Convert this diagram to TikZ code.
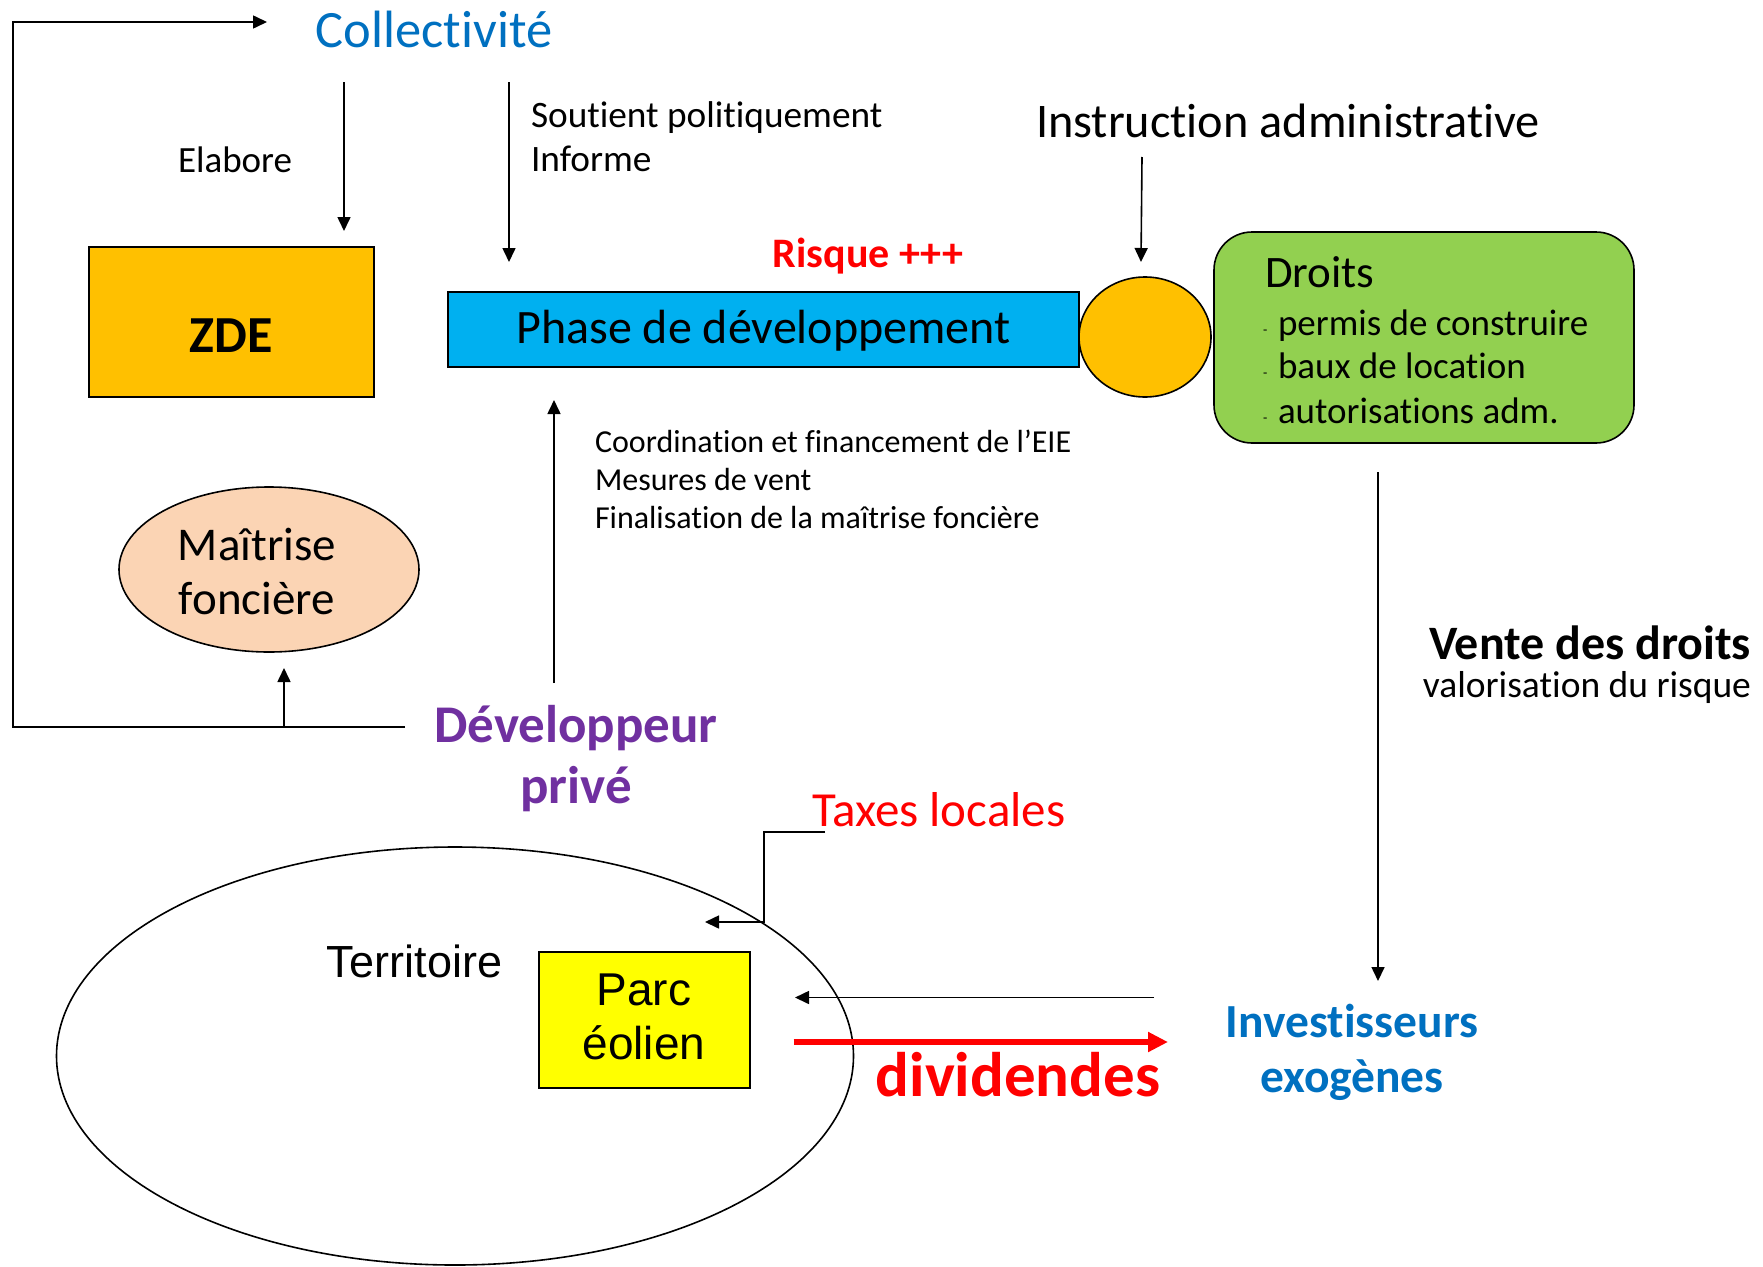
\documentclass[tikz,border=0pt]{standalone}
\usepackage{fontspec}
\setmainfont{Carlito}[Ligatures=NoCommon]
\newfontfamily\arialf{Liberation Sans}
\usetikzlibrary{arrows.meta,shapes.geometric}
\definecolor{cblue}{RGB}{0,112,192}
\definecolor{zdeorange}{RGB}{255,192,0}
\definecolor{phaseblue}{RGB}{0,176,240}
\definecolor{droitsgreen}{RGB}{146,208,80}
\definecolor{peach}{RGB}{251,212,180}
\definecolor{devpurple}{RGB}{112,48,160}
\definecolor{cred}{RGB}{255,0,0}
\definecolor{cyellow}{RGB}{255,255,0}
\newcommand{\fs}[1]{\fontsize{#1}{#1}\selectfont}
\begin{document}
\begin{tikzpicture}[x=1pt,y=-1pt,
  conn/.style={draw=black,line width=1.6pt,-{Triangle[length=14pt,width=13pt]}},
  txt/.style={inner sep=0pt,outer sep=0pt},
  boxshape/.style={draw=black,line width=2pt,inner sep=0pt},
]
\useasboundingbox (0,0) rectangle (1763,1266);

% shapes
\node[boxshape,fill=zdeorange,minimum width=285pt,minimum height=150pt] (zde) at (231,322) {};
\node[boxshape,fill=phaseblue,minimum width=631pt,minimum height=75pt] (phase) at (763.5,329.5) {};
\node[boxshape,ellipse,fill=zdeorange,line width=1.6pt,minimum width=132pt,minimum height=120pt] (circ) at (1145,337) {};
\node[boxshape,fill=droitsgreen,rounded corners=38pt,line width=1.6pt,minimum width=420pt,minimum height=211pt] (droits) at (1424,337.5) {};
\node[boxshape,ellipse,fill=peach,line width=1.6pt,minimum width=300pt,minimum height=165pt] (maitrise) at (269,569.5) {};
\node[boxshape,ellipse,line width=1.6pt,minimum width=797pt,minimum height=418pt] (terr) at (455,1056) {};
\node[boxshape,fill=cyellow,minimum width=211pt,minimum height=136pt] (parc) at (644,1020) {};

% texts
\node[txt,anchor=base,text=cblue,font=\fs{52.5}] (coll) at (434,47) {Collectivité};
\node[txt,anchor=base west,font=\fs{37}] (elabore) at (178,172) {Elabore};
\node[txt,anchor=base west,font=\fs{37.3}] (soutient) at (531,127) {Soutient politiquement};
\node[txt,anchor=base west,font=\fs{37.3}] (informe) at (531,171) {Informe};
\node[txt,anchor=base,text=cred,font=\bfseries\fs{42}] (risque) at (868,267) {Risque +++};
\node[txt,anchor=base,font=\bfseries\fs{52}] (zdet) at (231,352) {ZDE};
\node[txt,anchor=base,font=\fs{48}] (phaset) at (763.5,343) {Phase de développement};
\node[txt,anchor=base west,font=\fs{48.3}] (instr) at (1036,137) {Instruction administrative};
\node[txt,anchor=base west,font=\fs{45}] (droitst) at (1265,287) {Droits};
\node[txt,anchor=base west,font=\fs{14}] (d1) at (1263,334) {-};
\node[txt,anchor=base west,font=\fs{14}] (d2) at (1263,377) {-};
\node[txt,anchor=base west,font=\fs{14}] (d3) at (1263,422) {-};
\node[txt,anchor=base west,font=\fs{37}] (l1) at (1278,335) {permis de construire};
\node[txt,anchor=base west,font=\fs{37}] (l2) at (1278,378) {baux de location};
\node[txt,anchor=base west,font=\fs{37}] (l3) at (1278,423) {autorisations adm.};
\node[txt,anchor=base west,font=\fs{32}] (c1) at (595,452) {Coordination et financement de l’EIE};
\node[txt,anchor=base west,font=\fs{32}] (c2) at (595,490) {Mesures de vent};
\node[txt,anchor=base west,font=\fs{32}] (c3) at (595,528) {Finalisation de la maîtrise foncière};
\node[txt,anchor=base,font=\fs{47}] (m1) at (257,560) {Maîtrise};
\node[txt,anchor=base,font=\fs{47}] (m2) at (257,614) {foncière};
\node[txt,anchor=base,text=devpurple,font=\bfseries\fs{53}] (dev1) at (576,742) {Développeur};
\node[txt,anchor=base,text=devpurple,font=\bfseries\fs{53}] (dev2) at (576,803) {privé};
\node[txt,anchor=base west,text=cred,font=\fs{49}] (taxes) at (812,826) {Taxes locales};
\node[txt,anchor=base east,font=\bfseries\fs{48}] (vente) at (1751,659) {Vente des droits};
\node[txt,anchor=base east,font=\fs{37.5}] (valo) at (1751,697) {valorisation du risque};
\node[txt,anchor=base,text=cblue,font=\bfseries\fs{47.5}] (inv1) at (1352,1037) {Investisseurs};
\node[txt,anchor=base,text=cblue,font=\bfseries\fs{47.5}] (inv2) at (1352,1092) {exogènes};
\node[txt,anchor=base,text=cred,font=\bfseries\fs{63}] (divid) at (1018,1096) {dividendes};
\node[txt,anchor=base,font=\arialf\fs{45}] (terrt) at (414.5,977) {Territoire};
\node[txt,anchor=base,font=\arialf\fs{46}] (parc1) at (644,1005) {Parc};
\node[txt,anchor=base,font=\arialf\fs{46}] (parc2) at (644,1059) {éolien};

% connector end points
\coordinate (fbstart) at (405,727);
\coordinate (fbcornerA) at (13,727);
\coordinate (fbcornerB) at (13,22);
\coordinate (fbend) at (267,22);
\coordinate (mbranch) at (284,727);
\coordinate (mtip) at (284,668);
\coordinate (elA) at (344,82);
\coordinate (elB) at (344,231);
\coordinate (soA) at (509,82);
\coordinate (soB) at (509,262);
\coordinate (inA) at (1142,157);
\coordinate (inB) at (1141,262);
\coordinate (dvA) at (554,683);
\coordinate (dvB) at (554,400);
\coordinate (veA) at (1378,472);
\coordinate (veB) at (1378,981);
\coordinate (ivA) at (1154,997.5);
\coordinate (ivB) at (795,997.5);
\coordinate (txA) at (825,832);
\coordinate (txB) at (764,832);
\coordinate (txC) at (764,922);
\coordinate (txD) at (705,922);
\coordinate (dA) at (793.5,1042);
\coordinate (dB) at (1168,1042);

% connectors
\draw[conn] (fbstart) -- (fbcornerA) -- (fbcornerB) -- (fbend);
\draw[conn] (mbranch) -- (mtip);
\draw[conn] (elA) -- (elB);
\draw[conn] (soA) -- (soB);
\draw[conn] (inA) -- (inB);
\draw[conn] (dvA) -- (dvB);
\draw[conn] (veA) -- (veB);
\draw[conn] (ivA) -- (ivB);
\draw[conn] (txA) -- (txB) -- (txC) -- (txD);
\draw[draw=cred,line width=6pt,-{Triangle[length=20pt,width=19pt]}] (dA) -- (dB);
\end{tikzpicture}
\end{document}
